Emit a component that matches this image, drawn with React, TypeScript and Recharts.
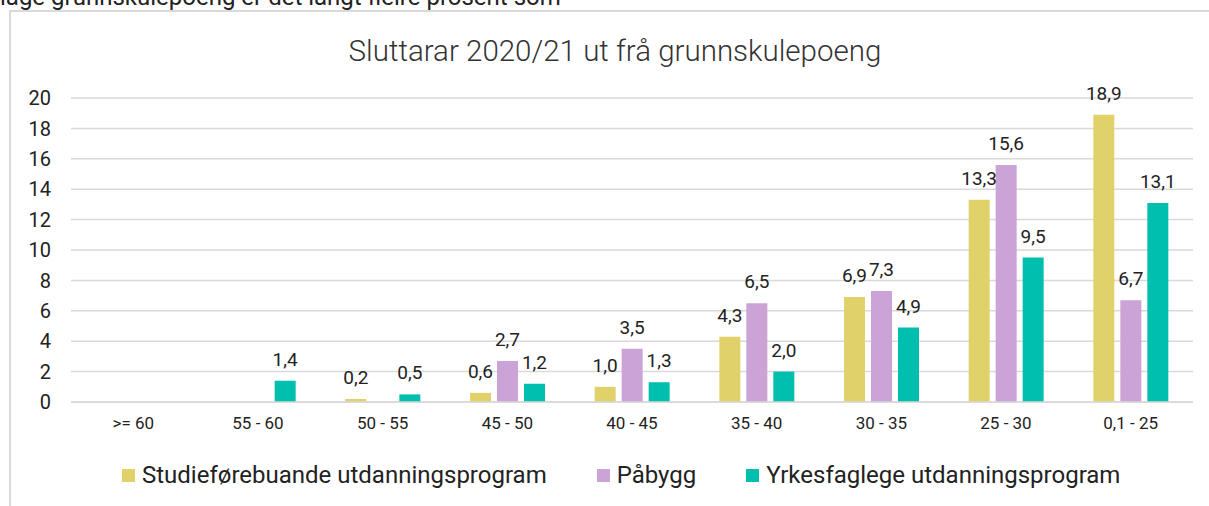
import React from 'react';
import { BarChart, Bar, XAxis, YAxis, CartesianGrid, LabelList, Legend } from 'recharts';

const categories = ['>= 60', '55 - 60', '50 - 55', '45 - 50', '40 - 45', '35 - 40', '30 - 35', '25 - 30', '0,1 - 25'];
const studie = [null, null, 0.2, 0.6, 1.0, 4.3, 6.9, 13.3, 18.9];
const paabygg = [null, null, null, 2.7, 3.5, 6.5, 7.3, 15.6, 6.7];
const yrkesfag = [null, 1.4, 0.5, 1.2, 1.3, 2.0, 4.9, 9.5, 13.1];
const yTicks = [0, 2, 4, 6, 8, 10, 12, 14, 16, 18, 20];

const series = [
  { key: 'studie', name: 'Studieførebuande utdanningsprogram', color: '#E0D16B' },
  { key: 'paabygg', name: 'Påbygg', color: '#CBA3D6' },
  { key: 'yrkesfag', name: 'Yrkesfaglege utdanningsprogram', color: '#00BFAE' },
];

const data = categories.map((c, i) => ({
  name: c,
  studie: studie[i],
  paabygg: paabygg[i],
  yrkesfag: yrkesfag[i],
}));

const font = 'Roboto, sans-serif';
const fmt = (v: any) => (v == null ? '' : Number(v).toFixed(1).replace('.', ','));

const LegendContent = () => (
  <div style={{ display: 'flex', alignItems: 'center', fontFamily: font, fontSize: 24, color: '#222', lineHeight: '28px', whiteSpace: 'nowrap' }}>
    {series.map((s) => (
      <div key={s.key} style={{ display: 'flex', alignItems: 'center', marginRight: 50 }}>
        <span style={{ width: 13, height: 13, background: s.color, display: 'inline-block', marginRight: 7 }} />
        <span>{s.name}</span>
      </div>
    ))}
  </div>
);

export default function App() {
  return (
    <div style={{ position: 'fixed', left: 0, top: 0, width: 1209, height: 506, overflow: 'hidden', background: '#fff' }}>
      <div style={{ position: 'absolute', left: 0, top: -15, fontFamily: font, fontSize: 24, lineHeight: '24px', color: '#222', whiteSpace: 'nowrap' }}>
        lage grunnskulepoeng er det langt fleire prosent som
      </div>
      <div style={{ position: 'absolute', left: 9, top: 10, width: 1300, height: 600, border: '2px solid #d9d9d9', boxSizing: 'border-box' }} />
      <div style={{ position: 'absolute', left: 0, top: 36, width: 1230, textAlign: 'center', fontFamily: font, fontSize: 29.5, fontWeight: 300, lineHeight: '30px', color: '#333', whiteSpace: 'nowrap' }}>
        Sluttarar 2020/21 ut frå grunnskulepoeng
      </div>
      <div style={{ position: 'absolute', left: 0, top: 0 }}>
        <BarChart width={1209} height={506} data={data} margin={{ top: 98, right: 16, left: 0, bottom: 74 }} barGap={6} barSize={21}>
          <CartesianGrid vertical={false} stroke="#d9d9d9" strokeWidth={1.5} />
          <XAxis
            dataKey="name"
            height={30}
            axisLine={{ stroke: '#d9d9d9', strokeWidth: 1.5 }}
            tickLine={false}
            tickSize={0}
            tickMargin={15}
            tick={{ fontFamily: font, fontSize: 17, fill: '#222' }}
            interval={0}
          />
          <YAxis
            width={71}
            domain={[0, 20]}
            ticks={yTicks}
            axisLine={false}
            tickLine={false}
            tickSize={0}
            tickMargin={20}
            tick={{ fontFamily: font, fontSize: 20, fill: '#222' }}
          />
          <Legend
            layout="horizontal"
            verticalAlign="middle"
            align="center"
            wrapperStyle={{ top: 461, left: 122, width: 1050 }}
            content={<LegendContent />}
          />
          {series.map((s) => (
            <Bar key={s.key} dataKey={s.key} name={s.name} fill={s.color} isAnimationActive={false}>
              <LabelList dataKey={s.key} position="top" offset={15} formatter={fmt} style={{ fontFamily: font, fontSize: 19, fill: '#222' }} />
            </Bar>
          ))}
        </BarChart>
      </div>
    </div>
  );
}
